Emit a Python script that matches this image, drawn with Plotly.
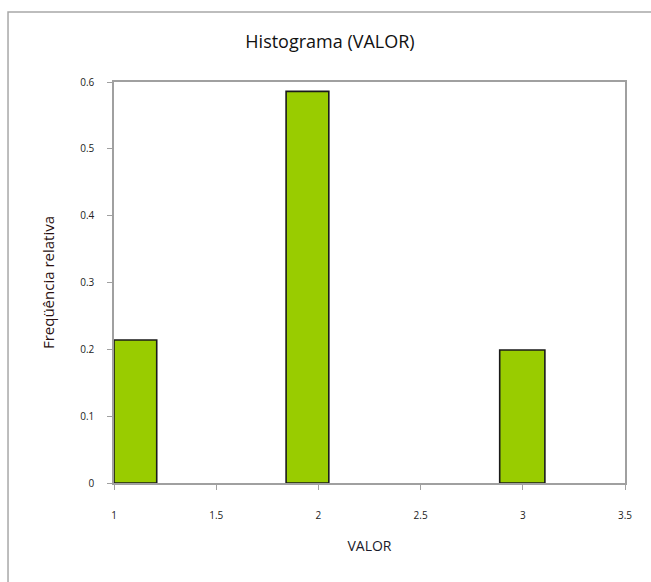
import plotly.graph_objects as go

# Histogram bins (left edge, right edge) and relative frequencies
bin_left = [1.0, 1.842, 2.887]
bin_right = [1.209, 2.051, 3.108]
rel_freq = [0.214, 0.586, 0.199]

x_ticks = [1, 1.5, 2, 2.5, 3, 3.5]
y_ticks = [0, 0.1, 0.2, 0.3, 0.4, 0.5, 0.6]

centers = [(a + b) / 2 for a, b in zip(bin_left, bin_right)]
widths = [b - a for a, b in zip(bin_left, bin_right)]

font_family = "Open Sans, Liberation Sans, sans-serif"

fig = go.Figure(
    go.Bar(
        x=centers,
        y=rel_freq,
        width=widths,
        marker=dict(color="#99CC00", line=dict(color="#1a1a1a", width=1.6)),
        hoverinfo="y",
    )
)

axis_common = dict(
    showgrid=False,
    zeroline=False,
    showline=True,
    linecolor="#A0A0A0",
    linewidth=1.5,
    mirror=True,
    ticks="outside",
    ticklen=5,
    tickwidth=1.2,
    tickcolor="#A0A0A0",
    tickfont=dict(family=font_family, size=10, color="#222222"),
)

fig.update_xaxes(
    range=[1, 3.5],
    tickvals=x_ticks,
    ticktext=[f"{v:g}" for v in x_ticks],
    ticklabelstandoff=17,
    title=dict(text="VALOR", font=dict(family=font_family, size=14, color="#1a1a2a"), standoff=20),
    **axis_common,
)
fig.update_yaxes(
    range=[0, 0.6],
    tickvals=y_ticks,
    ticktext=[f"{v:g}" for v in y_ticks],
    ticklabelstandoff=11,
    title=dict(text="Freqüência relativa", font=dict(family=font_family, size=15, color="#2a1010"), standoff=22),
    **axis_common,
)

fig.update_layout(
    width=651,
    height=582,
    margin=dict(l=114, r=26, t=82, b=99),
    paper_bgcolor="white",
    plot_bgcolor="white",
    showlegend=False,
    title=dict(
        text="Histograma (VALOR)",
        x=330 / 651,
        xanchor="center",
        y=1 - 42 / 582,
        yanchor="middle",
        font=dict(family=font_family, size=18, color="#111111"),
    ),
    shapes=[
        # chart frame
        dict(
            type="rect", xref="paper", yref="paper",
            x0=-0.2074, x1=1.2, y0=-0.4, y1=1.1746,
            line=dict(color="#A8A8A8", width=1.5),
            layer="below",
        )
    ],
)

fig.write_html("out.html")
